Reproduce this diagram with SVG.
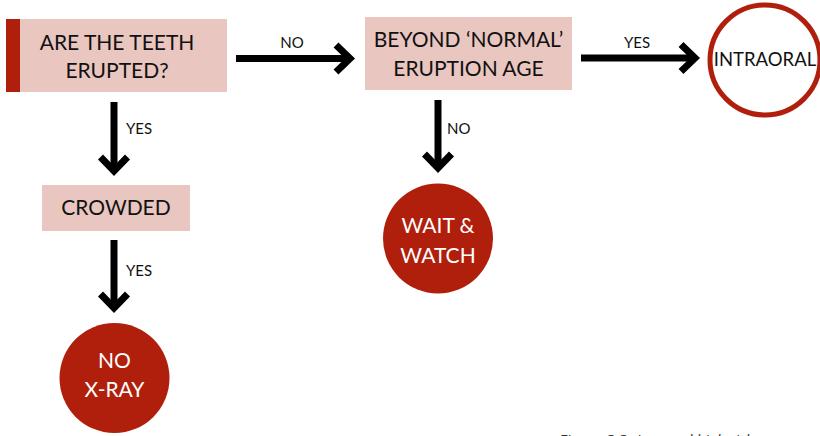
<svg xmlns="http://www.w3.org/2000/svg" width="820" height="436" viewBox="0 0 820 436">
<style>
.box{fill:#eac6c0}
.red{fill:#b01f0b}
.t{font-family:Lato,"Open Sans","Liberation Sans",sans-serif;font-size:21px;fill:#111;text-anchor:middle}
.w{fill:#fff}
.lbl{font-family:Lato,"Open Sans","Liberation Sans",sans-serif;font-size:15px;fill:#111}
.shaft{stroke:#000;stroke-width:7;fill:none}
.head{stroke:#000;stroke-width:7;fill:none;stroke-linejoin:miter;stroke-miterlimit:10}
</style>
<rect width="820" height="436" fill="#fff"/>
<g id="q1">
<rect class="box" x="6" y="19" width="221" height="73"/>
<rect class="red" x="6" y="19" width="14" height="73"/>
<text class="t" x="117" y="50">ARE THE TEETH</text>
<text class="t" x="117" y="78">ERUPTED?</text>
</g>
<g id="q2">
<rect class="box" x="365" y="17" width="207" height="73"/>
<text class="t" x="468.5" y="47">BEYOND ‘NORMAL’</text>
<text class="t" x="468.5" y="76">ERUPTION AGE</text>
</g>
<g id="intraoral">
<circle cx="765" cy="60" r="55" fill="#fff" stroke="#b01f0b" stroke-width="5"/>
<text class="t" x="765" y="66" style="font-size:18.5px">INTRAORAL</text>
</g>
<g id="crowded">
<rect class="box" x="42" y="185" width="148" height="46"/>
<text class="t" x="116" y="215">CROWDED</text>
</g>
<g id="noxray">
<circle class="red" cx="114.5" cy="378" r="55"/>
<text class="t w" x="114.5" y="368">NO</text>
<text class="t w" x="114.5" y="397">X-RAY</text>
</g>
<g id="waitwatch">
<circle class="red" cx="438" cy="238.5" r="55"/>
<text class="t w" x="438" y="233">WAIT &amp;</text>
<text class="t w" x="438" y="263">WATCH</text>
</g>
<g id="connectors">
<line class="shaft" x1="236" y1="58.5" x2="349" y2="58.5"/>
<polyline class="head" points="336,45 350,58.5 336,72"/>
<text class="lbl" x="292" y="48" text-anchor="middle">NO</text>
<line class="shaft" x1="581" y1="58" x2="694" y2="58"/>
<polyline class="head" points="681,44.5 695,58 681,71.5"/>
<text class="lbl" x="637" y="48" text-anchor="middle">YES</text>
<line class="shaft" x1="114" y1="102" x2="114" y2="170"/>
<polyline class="head" points="100.5,157 114,171 127.5,157"/>
<text class="lbl" x="126" y="134">YES</text>
<line class="shaft" x1="114" y1="240" x2="114" y2="307"/>
<polyline class="head" points="100.5,294 114,308 127.5,294"/>
<text class="lbl" x="126" y="276">YES</text>
<line class="shaft" x1="438" y1="100" x2="438" y2="167"/>
<polyline class="head" points="424.5,154 438,168 451.5,154"/>
<text class="lbl" x="447" y="134">NO</text>
</g>
<text x="560" y="445" style="font-family:'Open Sans','Noto Sans',sans-serif;font-size:15px;fill:#333">Figure 3.3: <tspan font-style="italic">Low and high risk</tspan></text>
</svg>
